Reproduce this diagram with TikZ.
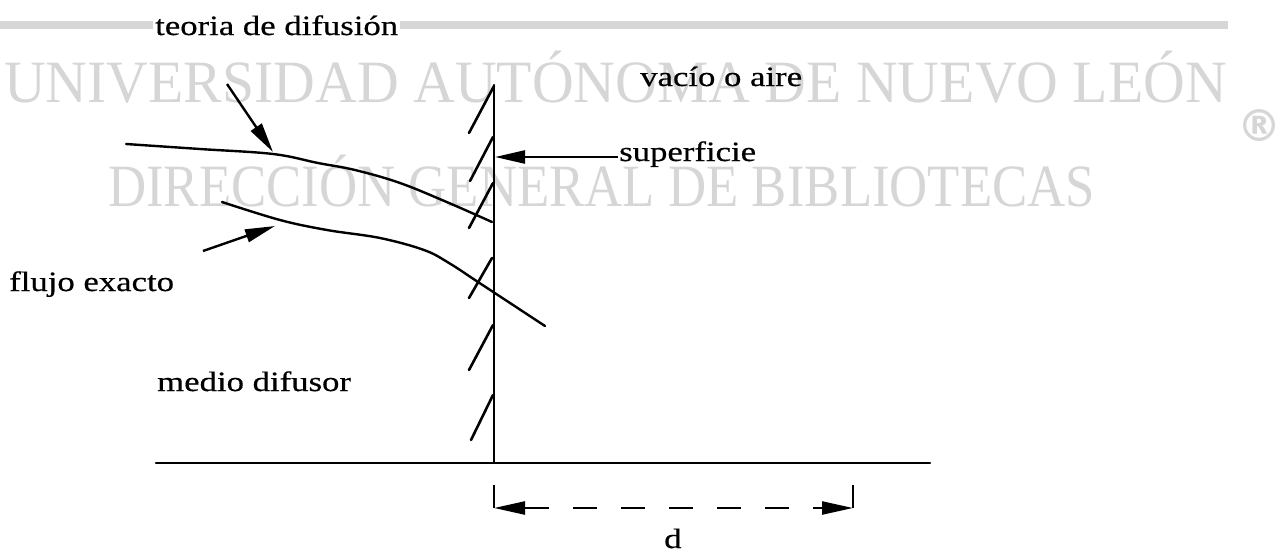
\documentclass[tikz,border=0pt]{standalone}
\usepackage{fontspec}
\setmainfont{Liberation Serif}
\newfontfamily\dfont[FakeStretch=1.24,FakeBold=0.5]{Liberation Serif}
\newfontfamily\wfont{Liberation Serif}
\newfontfamily\rfont{DejaVu Sans}
\usetikzlibrary{arrows.meta}
\definecolor{wmgray}{RGB}{214,214,214}
\tikzset{
  ln/.style={line width=2.4pt, line cap=round},
  curve/.style={line width=2.4pt, line cap=round, line join=round},
  hatchln/.style={line width=2.6pt, line cap=round},
  pointer/.style={line width=2.4pt, -{Triangle[length=30pt,width=13pt]}},
  lbl/.style={font=\dfont\fontsize{28}{32}\selectfont, inner sep=0pt, anchor=base west},
  wm/.style={font=\wfont\fontsize{60}{70}\selectfont, text=wmgray, inner sep=0pt, anchor=base west},
}
\begin{document}
\begin{tikzpicture}[x=1pt,y=-1pt]
\useasboundingbox (0,0) rectangle (1279,555);
% top gray bar
\fill[wmgray] (0,20.5) rectangle (1228,28.5);
% watermark
\node[wm] (wm1) at (4,102) {\scalebox{0.963}[1]{UNIVERSIDAD AUTÓNOMA DE NUEVO LEÓN}};
\node[wm] (wm2) at (108,206) {\scalebox{0.88}[1]{DIRECCIÓN GENERAL DE BIBLIOTECAS}};
\node[font=\rfont\bfseries\fontsize{44}{50}\selectfont, text=wmgray, inner sep=0pt] (reg) at (1259,126) {®};
% labels
\node[lbl, fill=white, inner xsep=2pt] (teoria) at (153,35) {teoria de difusión};
\node[lbl] (vacio) at (640,86) {vacío o aire};
\node[lbl] (sup) at (619,161) {superficie};
\node[lbl] (flujo) at (9,291) {flujo exacto};
\node[lbl] (medio) at (157,391) {medio difusor};
\node[lbl] (dlab) at (664,548) {d};
% wall and ground
\coordinate (wtop) at (494,85);
\coordinate (wbot) at (494,463);
\coordinate (gl) at (156,463);
\coordinate (gr) at (930,463);
\draw[ln] (wtop) -- (wbot);
\draw[ln] (gl) -- (gr);
% hatches
\draw[hatchln] (469,133) -- (494,86);
\draw[hatchln] (470,181) -- (493,137);
\draw[hatchln] (469,228) -- (493,183);
\draw[hatchln] (469,298) -- (492,258);
\draw[hatchln] (469,370) -- (493,325);
\draw[hatchln] (471,440) -- (493,395);
% curves
\draw[curve] plot[smooth, tension=0.6] coordinates {(126,144) (200,149) (273,154) (318,163) (355,170) (400,183) (449,203) (492,222)};
\draw[curve] plot[smooth, tension=0.6] coordinates {(222,202) (280,220) (327,230) (380,238) (424,250) (449,263) (478,282) (510,303) (545,326)};
% pointers
\coordinate (ta) at (227,84);
\coordinate (tb) at (273,152);
\draw[pointer] (ta) -- (tb);
\coordinate (fa) at (203,251);
\coordinate (fb) at (275,226);
\draw[pointer] (fa) -- (fb);
\coordinate (sa) at (618,157);
\coordinate (sb) at (495,157);
\draw[pointer] (sa) -- (sb);
% dimension d
\coordinate (dl) at (494,508);
\coordinate (dr) at (853,508);
\coordinate (dlt) at (494,485);
\coordinate (drt) at (853,485);
\coordinate (dl2) at (525,508);
\coordinate (dr2) at (789,508);
\coordinate (dr3) at (813,508);
\draw[line width=2.2pt] (dlt) -- (dl);
\draw[line width=2.2pt] (drt) -- (dr);
\draw[line width=2.4pt, -{Triangle[length=31pt,width=13pt]}] (dl2) -- (dl);
\draw[line width=2.4pt, dash pattern=on 24pt off 24pt] (dl2) -- (dr2);
\draw[line width=2.4pt, -{Triangle[length=31pt,width=13pt]}] (dr3) -- (dr);
\end{tikzpicture}
\end{document}
